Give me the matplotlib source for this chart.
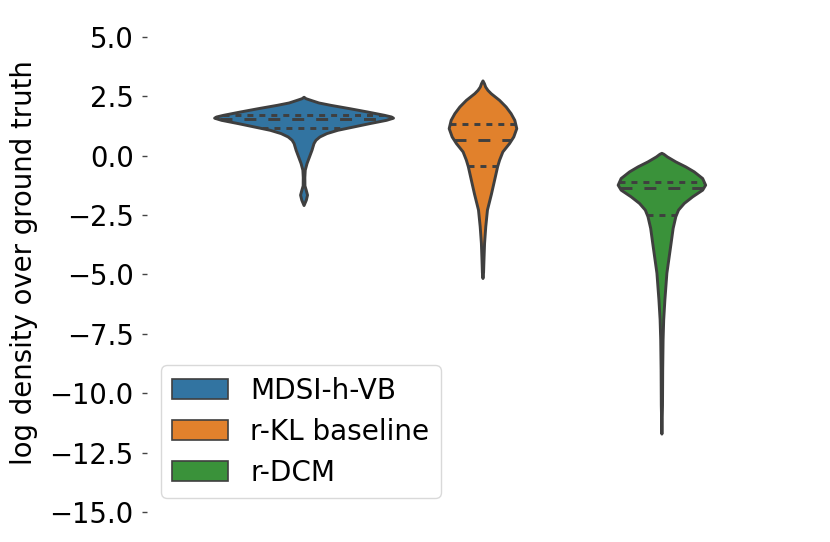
import numpy as np
import matplotlib
matplotlib.use("Agg")
import matplotlib.pyplot as plt
from matplotlib.patches import Patch

# method names and colours (seaborn deep, desaturated)
methods = ["MDSI-h-VB", "r-KL baseline", "r-DCM"]
colors = ["#3274a1", "#e1812c", "#3a923a"]

# density profiles: log density value -> density (arbitrary units)
mdsi_y = [2.48, 2.42, 2.35, 2.24, 2.14, 2.00, 1.86, 1.72, 1.65, 1.60, 1.51, 1.37,
          1.23, 1.09, 0.95, 0.81, 0.67, 0.53, 0.25, -0.03, -0.31, -0.59, -0.90,
          -1.25, -1.45, -1.64, -1.85, -2.08]
mdsi_d = [0.0, 2.0, 7.0, 15.0, 27.0, 46.0, 64.0, 81.0, 88.0, 90.0, 83.0, 66.0,
          50.0, 34.0, 23.0, 16.0, 12.0, 10.0, 8.0, 5.5, 3.0, 1.2, 0.8,
          0.9, 2.3, 3.5, 2.3, 0.0]
kl_y = [3.17, 3.05, 2.91, 2.77, 2.63, 2.49, 2.35, 2.07, 1.79, 1.51, 1.16, 0.81,
        0.53, 0.18, -0.17, -0.45, -1.01, -1.60, -2.27, -2.97, -3.67, -4.37,
        -4.90, -5.15]
kl_d = [0.0, 1.5, 2.7, 5.0, 8.3, 12.5, 16.7, 23.3, 28.3, 32.0, 34.0, 31.0,
        26.7, 20.0, 16.7, 14.7, 11.7, 8.5, 4.5, 2.8, 1.6, 1.0,
        0.6, 0.0]
dcm_y = [0.12, 0.08, -0.03, -0.24, -0.45, -0.66, -0.94, -1.22, -1.43, -1.71,
         -1.99, -2.27, -2.55, -3.04, -3.74, -4.93, -6.05, -6.89, -7.73, -9.00,
         -10.50, -11.70]
dcm_d = [0.0, 2.0, 5.5, 14.0, 24.0, 32.5, 41.0, 44.0, 41.0, 31.0,
         22.5, 16.7, 14.0, 11.3, 9.0, 5.0, 3.0, 1.8, 1.2, 0.8,
         0.6, 0.0]

# quartiles (q1, median, q3)
mdsi_q = [1.16, 1.53, 1.72]
kl_q = [-0.42, 0.67, 1.33]
dcm_q = [-2.48, -1.36, -1.12]

profiles = [(mdsi_y, mdsi_d, mdsi_q), (kl_y, kl_d, kl_q), (dcm_y, dcm_d, dcm_q)]

plt.rcParams["font.family"] = "DejaVu Sans"
plt.rcParams["font.size"] = 19.8

fig = plt.figure(figsize=(8.3, 5.42), dpi=100)
ax = fig.add_axes([0.1771, 0.0554, 0.8084, 0.9203])

edge = "#3f3f3f"
lw = 2.1
half_max = 0.4 / 3  # widest violin fills its dodge slot
positions = [-0.8 / 3, 0.0, 0.8 / 3]
dmax = max(max(p[1]) for p in profiles)

for pos, (yy, dd, qq), c in zip(positions, profiles, colors):
    yy = np.asarray(yy)
    hw = np.asarray(dd) / dmax * half_max
    ax.fill_betweenx(yy, pos - hw, pos + hw, facecolor=c, edgecolor=edge,
                     linewidth=lw, zorder=2)
    order = np.argsort(yy)
    for k, q in enumerate(qq):
        w = np.interp(q, yy[order], hw[order])
        if k == 1:
            ls = (0, (4.1, 4.1))
        else:
            ls = (0, (2.05, 2.05))
        ax.plot([pos - w, pos + w], [q, q], color=edge, lw=lw, ls=ls,
                solid_capstyle="butt", dash_capstyle="butt", zorder=3)

ax.set_xlim(-0.5, 0.5)
ax.set_ylim(-15, 6)
ticks = np.arange(-15, 5.1, 2.5)
ax.set_yticks(ticks)
ax.set_yticklabels([f"{t:.1f}".replace("-", "\u2212") for t in ticks])
ax.set_xticks([])
for s in ax.spines.values():
    s.set_visible(False)
ax.tick_params(axis="y", length=3.6, width=1.0, color="#444444", pad=6.0)
ax.set_ylabel("log density over ground truth", labelpad=8)

handles = [Patch(facecolor=c, edgecolor=edge, linewidth=1.2) for c in colors]
ax.legend(handles, methods, loc="lower left", fontsize=20.1, labelspacing=0.47,
          edgecolor="#d0d0d0", fancybox=True)

fig.savefig("out.png", dpi=100)
